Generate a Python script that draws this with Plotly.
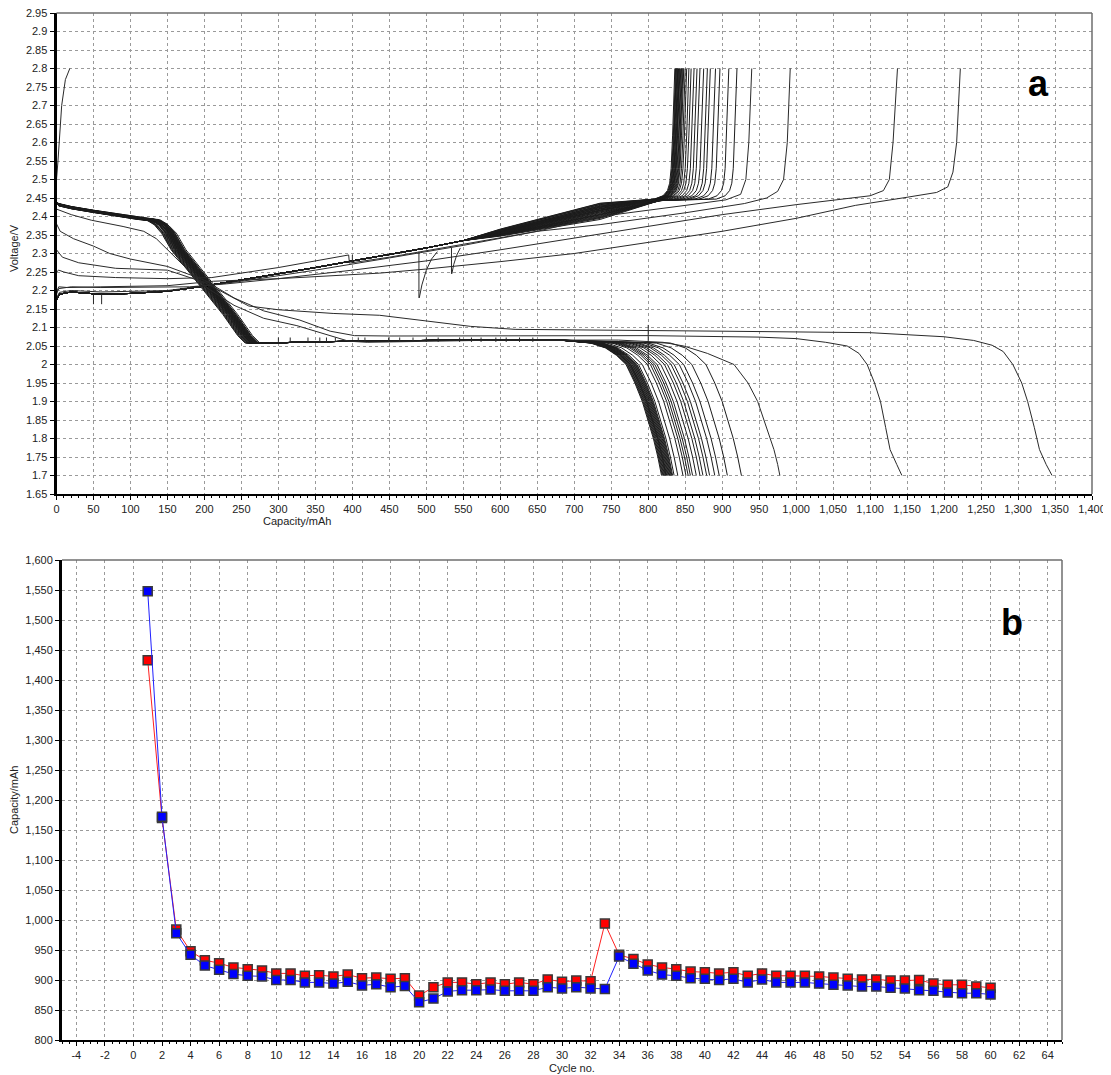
import plotly.graph_objects as go

# ---------------- Panel b : capacity vs cycle ----------------
CYCLES = list(range(1, 61))
RED_CAP = [1433, 1170, 984, 948, 933, 928, 921, 918, 916, 911,
           911, 907, 908, 906, 909, 903, 904, 902, 903, 874,
           888, 896, 896, 893, 896, 893, 896, 893, 901, 897,
           899, 898, 994, 942, 935, 926, 921, 918, 914, 913,
           911, 913, 907, 911, 907, 907, 907, 906, 904, 902,
           901, 901, 899, 899, 900, 894, 892, 892, 889, 887]
BLUE_CAP = [1548, 1172, 978, 942, 924, 917, 910, 907, 906, 900,
            900, 896, 896, 894, 897, 891, 893, 888, 890, 863,
            869, 881, 883, 883, 884, 882, 882, 882, 888, 886,
            888, 886, 885, 939, 927, 916, 909, 907, 903, 902,
            900, 902, 896, 901, 896, 896, 896, 894, 892, 891,
            889, 889, 887, 886, 883, 882, 879, 878, 878, 876]
CYCLE_TICKS = [-4, -2, 0, 2, 4, 6, 8, 10, 12, 14, 16, 18, 20, 22, 24, 26, 28, 30,
               32, 34, 36, 38, 40, 42, 44, 46, 48, 50, 52, 54, 56, 58, 60, 62, 64]

# ---------------- Panel a : voltage vs capacity ----------------
# shared discharge path of the main bundle
D_HEAD_CAP = [0, 0, 3, 20, 50, 80, 110, 122, 132, 142, 155, 175, 200, 225, 245, 255, 275, 320, 400, 500, 600, 680]
D_HEAD_V = [2.80, 2.44, 2.432, 2.424, 2.414, 2.405, 2.395, 2.39, 2.378, 2.355, 2.31, 2.26,
            2.198, 2.135, 2.078, 2.058, 2.057, 2.06, 2.063, 2.066, 2.067, 2.066]
# end-of-discharge knee of the bundle (reference curve ending at 826 mAh)
D_TAIL_CAP = [730, 750, 765, 778, 790, 800, 808, 815, 821, 826]
D_TAIL_V = [2.058, 2.045, 2.025, 2.0, 1.95, 1.9, 1.85, 1.8, 1.75, 1.7]
D_TAIL_REF = 826
# capacity at 1.7 V for each bundle discharge curve, and shift of its sloped section
D_ENDS = [818, 819, 820, 821, 822, 823, 824, 824, 825, 826, 827, 828, 829, 830, 831, 832,
          833, 835, 840, 847, 851, 854, 857, 860, 865, 870, 874, 879, 883, 890, 896, 907, 926]
D_SHIFT = [0, 2, 4, 6, 8, 10, 12, 14, 3, 5, 7, 9, 11, 1, 13, 15,
           6, 8, 10, 12, 14, 16, 18, 9, 11, 13, 15, 17, 12, 14, 16, 18, 20]
# small offsets of the upper discharge plateau (band thickness)
D_DV = [0.0, 0.002, -0.002, 0.001, -0.001, 0.003, -0.003, 0.0, -0.001, 0.002, -0.002, 0.003,
        -0.003, 0.0, 0.001, -0.001, 0.002, -0.002, 0.0, 0.002, -0.002, 0.001, -0.001, 0.001,
        -0.001, 0.0, 0.002, -0.002, 0.001, 0.0, -0.001, 0.001, -0.003]

# individual discharge curves (first cycles)
OD1_CAP = [0, 0, 8, 30, 80, 150, 200, 230, 260, 300, 374, 437, 500, 560, 620, 700, 900, 1100,
           1200, 1240, 1265, 1280, 1293, 1305, 1313, 1322, 1329, 1338, 1346]
OD1_V = [2.8, 2.31, 2.29, 2.275, 2.26, 2.255, 2.222, 2.19, 2.158, 2.148, 2.138, 2.133, 2.118,
         2.103, 2.095, 2.093, 2.09, 2.086, 2.075, 2.065, 2.052, 2.035, 2.0, 1.95, 1.9, 1.83,
         1.77, 1.73, 1.7]
OD2_CAP = [0, 0, 5, 23, 50, 72, 100, 150, 200, 240, 280, 329, 370, 403, 450, 600, 800, 950,
           1000, 1040, 1069, 1085, 1096, 1106, 1114, 1121, 1127, 1136, 1143]
OD2_V = [2.8, 2.38, 2.36, 2.34, 2.32, 2.30, 2.285, 2.265, 2.228, 2.18, 2.145, 2.12, 2.09, 2.078,
         2.077, 2.078, 2.078, 2.074, 2.07, 2.06, 2.05, 2.03, 2.0, 1.95, 1.9, 1.83, 1.77, 1.73, 1.7]
OD3_CAP = [0, 0, 20, 47, 90, 118, 135, 160, 200, 240, 280, 325, 395, 420, 600, 760, 820, 848,
           880, 916, 935, 948, 960, 970, 975, 978]
OD3_V = [2.8, 2.42, 2.405, 2.39, 2.373, 2.36, 2.34, 2.29, 2.212, 2.16, 2.125, 2.105, 2.063,
         2.06, 2.066, 2.066, 2.06, 2.05, 2.03, 2.0, 1.95, 1.9, 1.83, 1.77, 1.73, 1.7]

# shared charge path of the main bundle
C_HEAD_CAP = [0, 0, 4, 20, 45, 60, 100, 150, 200, 250, 300, 350, 400, 450, 500, 550]
C_HEAD_V = [1.70, 2.175, 2.19, 2.196, 2.192, 2.19, 2.192, 2.198, 2.212, 2.228, 2.245,
            2.262, 2.28, 2.297, 2.315, 2.335]
# charge knee relative to the end capacity (at 2.8 V)
C_TAIL_DCAP = [-28, -16, -10, -7, -5, -3, 0]
C_TAIL_V = [2.447, 2.456, 2.47, 2.49, 2.53, 2.62, 2.80]
C_ENDS = [836, 837, 838, 838, 839, 840, 840, 841, 842, 842, 843, 844, 845, 846, 847, 848,
          850, 852, 855, 858, 862, 866, 870, 875, 880, 884, 891, 897, 909, 920]
C_V600 = [2.366, 2.363, 2.36, 2.365, 2.361, 2.358, 2.364, 2.36, 2.357, 2.362, 2.358, 2.36,
          2.357, 2.361, 2.357, 2.355, 2.356, 2.354, 2.353, 2.354, 2.352, 2.352, 2.351, 2.351,
          2.35, 2.35, 2.349, 2.349, 2.348, 2.347]
C_V735 = [2.436, 2.433, 2.43, 2.435, 2.428, 2.426, 2.432, 2.424, 2.422, 2.428, 2.42, 2.425,
          2.418, 2.421, 2.417, 2.415, 2.416, 2.413, 2.41, 2.412, 2.408, 2.406, 2.404, 2.405,
          2.402, 2.4, 2.398, 2.397, 2.395, 2.392]

# individual charge curves
OC1_CAP = [0, 0, 3, 15, 60, 150, 212, 300, 437, 500, 600, 700, 800, 900, 1000, 1080, 1150,
           1190, 1205, 1212, 1217, 1222]
OC1_V = [1.70, 2.195, 2.21, 2.208, 2.21, 2.213, 2.225, 2.232, 2.247, 2.258, 2.278, 2.30,
         2.33, 2.36, 2.395, 2.43, 2.452, 2.465, 2.48, 2.52, 2.6, 2.8]
OC2_CAP = [0, 0, 3, 20, 60, 120, 180, 230, 300, 400, 500, 600, 700, 800, 900, 1000, 1060,
           1100, 1118, 1126, 1131, 1137]
OC2_V = [1.70, 2.19, 2.205, 2.21, 2.208, 2.208, 2.21, 2.218, 2.232, 2.255, 2.28, 2.31, 2.342,
         2.375, 2.405, 2.432, 2.447, 2.456, 2.47, 2.5, 2.6, 2.8]
OC3_CAP = [0, 0, 3, 10, 30, 80, 150, 210, 300, 395, 396, 450, 550, 650, 735, 850, 930, 960,
           975, 983, 988, 992]
OC3_V = [1.70, 2.25, 2.255, 2.25, 2.24, 2.235, 2.232, 2.235, 2.262, 2.296, 2.274, 2.29, 2.325,
         2.36, 2.378, 2.41, 2.435, 2.45, 2.468, 2.5, 2.6, 2.8]
OC4_CAP = [0, 0, 4, 20, 60, 150, 250, 350, 450, 550, 650, 735, 850, 905, 925, 932, 936, 940]
OC4_V = [1.70, 2.18, 2.195, 2.2, 2.196, 2.2, 2.225, 2.255, 2.288, 2.322, 2.36, 2.40, 2.43,
         2.445, 2.46, 2.5, 2.6, 2.8]
OC5_CAP = [0, 0, 2, 4, 7, 12, 18]
OC5_V = [1.70, 2.5, 2.55, 2.62, 2.7, 2.77, 2.8]

# measurement glitches (vertical spikes)
SPIKE_CAP = [50, 61, 400, 490, 534, 800]
SPIKE_V0 = [2.19, 2.19, 2.296, 2.305, 2.315, 2.107]
SPIKE_V1 = [2.163, 2.163, 2.274, 2.18, 2.245, 1.995]
REC1_CAP = [490.5, 494, 500, 507, 515]
REC1_V = [2.18, 2.215, 2.255, 2.285, 2.305]
REC2_CAP = [534.5, 537, 541, 546]
REC2_V = [2.245, 2.27, 2.295, 2.315]
TICK_CAP = [300, 316, 340, 356, 365, 377, 408, 417, 449, 464, 482, 500, 516, 545, 561, 574,
            594, 608, 626, 644]
TICK_V0 = 2.061
TICK_V1 = 2.073

# ---------------- build line collections ----------------
bx, by = [], []   # bundle curves
ox, oy = [], []   # single curves


def add(cx, cy, xs, ys):
    xs.extend(list(cx) + [None])
    ys.extend(list(cy) + [None])


for e, s, dv in zip(D_ENDS, D_SHIFT, D_DV):
    cx, cy = [], []
    for c, v in zip(D_HEAD_CAP, D_HEAD_V):
        cx.append(c + s if 115 <= c <= 280 else c)
        cy.append(v + dv if 0 < c <= 140 else v)
    for c, v in zip(D_TAIL_CAP, D_TAIL_V):
        cx.append(c + e - D_TAIL_REF)
        cy.append(v)
    add(cx, cy, bx, by)

for e, v6, v7 in zip(C_ENDS, C_V600, C_V735):
    cx = list(C_HEAD_CAP) + [600, 735]
    cy = list(C_HEAD_V) + [v6, v7]
    if e - 28 > 830:
        cx.append(815)
        cy.append(2.443)
    for dc, v in zip(C_TAIL_DCAP, C_TAIL_V):
        cx.append(e + dc)
        cy.append(v)
    add(cx, cy, bx, by)

for cx, cy in [(OD1_CAP, OD1_V), (OD2_CAP, OD2_V), (OD3_CAP, OD3_V),
               (OC1_CAP, OC1_V), (OC2_CAP, OC2_V), (OC3_CAP, OC3_V),
               (OC4_CAP, OC4_V), (OC5_CAP, OC5_V), (REC1_CAP, REC1_V), (REC2_CAP, REC2_V)]:
    add(cx, cy, ox, oy)

for c, v0, v1 in zip(SPIKE_CAP, SPIKE_V0, SPIKE_V1):
    add([c, c], [v0, v1], ox, oy)
for c in TICK_CAP:
    add([c, c], [TICK_V0, TICK_V1], ox, oy)

# page offset: the browser body adds an 8 px margin on the left and top
OFF = 8
W, H = 1111 - OFF, 1075 - OFF
FONT = "Liberation Sans"


def fx(px):
    return (px - OFF) / W


def fy(py):
    return 1 - (py - OFF) / H


fig = go.Figure()
fig.add_trace(go.Scatter(x=bx, y=by, mode="lines", xaxis="x", yaxis="y",
                         line=dict(color="#1c1c1c", width=1), hoverinfo="skip",
                         showlegend=False))
fig.add_trace(go.Scatter(x=ox, y=oy, mode="lines", xaxis="x", yaxis="y",
                         line=dict(color="#2a2a2a", width=1), hoverinfo="skip",
                         showlegend=False))

marker_line = dict(color="#3a3a3a", width=1.5)
fig.add_trace(go.Scatter(x=CYCLES, y=RED_CAP, mode="lines+markers", xaxis="x2", yaxis="y2",
                         line=dict(color="#ff2020", width=1),
                         marker=dict(symbol="square", size=9, color="#ff0000", line=marker_line),
                         showlegend=False))
fig.add_trace(go.Scatter(x=CYCLES, y=BLUE_CAP, mode="lines+markers", xaxis="x2", yaxis="y2",
                         line=dict(color="#2020ff", width=1),
                         marker=dict(symbol="square", size=9, color="#0000ff", line=marker_line),
                         showlegend=False))

grid = dict(showgrid=True, gridcolor="#9a9a9a", gridwidth=1, griddash="3px,3px",
            zeroline=False, ticks="outside", ticklen=4, tickcolor="#000",
            tickfont=dict(family=FONT, size=11, color="#222"), showline=True,
            linecolor="#000", automargin=False, ticklabeloverflow="allow")

fig.update_layout(
    width=W, height=H,
    margin=dict(l=0, r=0, t=0, b=0),
    paper_bgcolor="white", plot_bgcolor="white",
    separators=".,",
    xaxis=dict(domain=[fx(56.5), fx(1092)], range=[0, 1400], tick0=0, dtick=50, tickformat=",d",
               linewidth=2, anchor="y",
               minor=dict(dtick=10, ticks="outside", ticklen=2, tickcolor="#000", showgrid=False),
               **grid),
    yaxis=dict(domain=[fy(494), fy(13)], range=[1.65, 2.9500001], tick0=1.65, dtick=0.05,
               tickformat=".3~r", linewidth=3, anchor="x", **grid),
    xaxis2=dict(domain=[fx(62), fx(1062)], range=[-5, 65], tickmode="array", tickvals=CYCLE_TICKS,
                ticktext=[str(t) for t in CYCLE_TICKS], linewidth=2, anchor="y2",
                minor=dict(dtick=0.5, ticks="outside", ticklen=2, tickcolor="#000", showgrid=False),
                **grid),
    yaxis2=dict(domain=[fy(1040), fy(560)], range=[800, 1600], tick0=800, dtick=50,
                tickformat=",d", linewidth=3, anchor="x2", **grid),
)

shapes = []
for xr, yr in [("x domain", "y domain"), ("x2 domain", "y2 domain")]:
    shapes.append(dict(type="line", xref=xr, yref=yr, x0=0, x1=1, y0=1, y1=1,
                       line=dict(color="#6e6e6e", width=1.5), layer="above"))
    shapes.append(dict(type="line", xref=xr, yref=yr, x0=1, x1=1, y0=0, y1=1,
                       line=dict(color="#6e6e6e", width=1.5), layer="above"))
fig.update_layout(shapes=shapes)

tf = dict(family=FONT, size=11, color="#222")
ann = [
    dict(text="Voltage/V", x=fx(14), y=fy(248), textangle=-90),
    dict(text="Capacity/mAh", x=fx(297), y=fy(521)),
    dict(text="Capacity/mAh", x=fx(14), y=fy(800), textangle=-90),
    dict(text="Cycle no.", x=fx(572), y=fy(1068)),
]
annotations = [dict(xref="paper", yref="paper", showarrow=False, font=tf,
                    xanchor="center", yanchor="middle", **a) for a in ann]
big = dict(family="Liberation Sans", size=36, color="#000")
annotations.append(dict(text="<b>a</b>", x=fx(1038), y=fy(84), xref="paper", yref="paper",
                        showarrow=False, font=big, xanchor="center", yanchor="middle"))
annotations.append(dict(text="<b>b</b>", x=fx(1012), y=fy(622), xref="paper", yref="paper",
                        showarrow=False, font=big, xanchor="center", yanchor="middle"))
fig.update_layout(annotations=annotations)

fig.write_html("out.html")
